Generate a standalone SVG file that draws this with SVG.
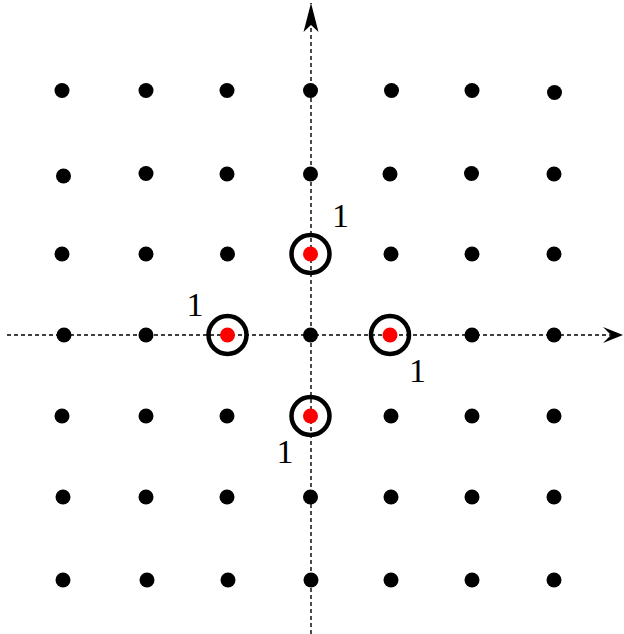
<svg xmlns="http://www.w3.org/2000/svg" width="624" height="634" viewBox="0 0 624 634">
<style>
.dot{fill:#000}
.red{fill:#ff0000}
.ring{fill:none;stroke:#000;stroke-width:4.5}
.axis{stroke:#000;stroke-width:1.4;stroke-dasharray:4,3;fill:none}
.lbl{font-family:"Liberation Serif","Times New Roman",serif;font-size:34px;fill:#000;text-anchor:middle}
</style>
<defs>
<marker id="ahv" markerUnits="userSpaceOnUse" markerWidth="32" markerHeight="20" viewBox="0 0 32 20" refX="30" refY="10" orient="auto">
<path d="M1,2.5 L30,10 L1,17.5 L8,10 Z" fill="#000"/>
</marker>
<marker id="ahh" markerUnits="userSpaceOnUse" markerWidth="24" markerHeight="20" viewBox="0 0 24 20" refX="22" refY="10" orient="auto">
<path d="M2,2 L22,10 L2,18 L10,10 Z" fill="#000"/>
</marker>
</defs>
<g id="connectors">
<line class="axis" x1="311" y1="634" x2="311" y2="3" marker-end="url(#ahv)"/>
<line class="axis" x1="7" y1="335" x2="623" y2="335" marker-end="url(#ahh)"/>
</g>
<g id="lattice">
<circle class="dot" cx="62" cy="90.5" r="7.5"/>
<circle class="dot" cx="146" cy="90.5" r="7.5"/>
<circle class="dot" cx="227" cy="90.5" r="7.5"/>
<circle class="dot" cx="310.5" cy="90.5" r="7.5"/>
<circle class="dot" cx="391.5" cy="90.5" r="7.5"/>
<circle class="dot" cx="472" cy="90.5" r="7.5"/>
<circle class="dot" cx="554.5" cy="92.5" r="7.5"/>
<circle class="dot" cx="63.5" cy="176" r="7.5"/>
<circle class="dot" cx="146" cy="173.5" r="7.5"/>
<circle class="dot" cx="227" cy="174" r="7.5"/>
<circle class="dot" cx="310.5" cy="174" r="7.5"/>
<circle class="dot" cx="390" cy="174" r="7.5"/>
<circle class="dot" cx="471.5" cy="173.5" r="7.5"/>
<circle class="dot" cx="554" cy="174" r="7.5"/>
<circle class="dot" cx="62" cy="254" r="7.5"/>
<circle class="dot" cx="146" cy="254" r="7.5"/>
<circle class="dot" cx="227.5" cy="254" r="7.5"/>
<circle class="dot" cx="391" cy="254" r="7.5"/>
<circle class="dot" cx="472" cy="254" r="7.5"/>
<circle class="dot" cx="554" cy="254" r="7.5"/>
<circle class="dot" cx="64" cy="335" r="7.5"/>
<circle class="dot" cx="146" cy="335" r="7.5"/>
<circle class="dot" cx="310.5" cy="335" r="7.5"/>
<circle class="dot" cx="472" cy="335" r="7.5"/>
<circle class="dot" cx="554" cy="335" r="7.5"/>
<circle class="dot" cx="62" cy="416" r="7.5"/>
<circle class="dot" cx="146" cy="416" r="7.5"/>
<circle class="dot" cx="227" cy="416" r="7.5"/>
<circle class="dot" cx="391" cy="416" r="7.5"/>
<circle class="dot" cx="472" cy="416" r="7.5"/>
<circle class="dot" cx="554" cy="416" r="7.5"/>
<circle class="dot" cx="63" cy="497" r="7.5"/>
<circle class="dot" cx="146" cy="497" r="7.5"/>
<circle class="dot" cx="227" cy="497" r="7.5"/>
<circle class="dot" cx="310.5" cy="497" r="7.5"/>
<circle class="dot" cx="391" cy="497" r="7.5"/>
<circle class="dot" cx="472" cy="497" r="7.5"/>
<circle class="dot" cx="554" cy="497" r="7.5"/>
<circle class="dot" cx="63" cy="580" r="7.5"/>
<circle class="dot" cx="147" cy="580" r="7.5"/>
<circle class="dot" cx="228" cy="580" r="7.5"/>
<circle class="dot" cx="311" cy="580" r="7.5"/>
<circle class="dot" cx="391" cy="580" r="7.5"/>
<circle class="dot" cx="472" cy="580" r="7.5"/>
<circle class="dot" cx="554" cy="580" r="7.5"/>
</g>
<g id="node-top">
<circle class="ring" cx="310.5" cy="254" r="19"/>
<circle class="red" cx="310.5" cy="254" r="7.5"/>
<text class="lbl" x="340.5" y="227">1</text>
</g>
<g id="node-left">
<circle class="ring" cx="227.5" cy="335" r="19"/>
<circle class="red" cx="227.5" cy="335" r="7.5"/>
<text class="lbl" x="195" y="316">1</text>
</g>
<g id="node-right">
<circle class="ring" cx="390" cy="335" r="19"/>
<circle class="red" cx="390" cy="335" r="7.5"/>
<text class="lbl" x="417.5" y="382">1</text>
</g>
<g id="node-bottom">
<circle class="ring" cx="310.5" cy="416" r="19"/>
<circle class="red" cx="310.5" cy="416" r="7.5"/>
<text class="lbl" x="285" y="463">1</text>
</g>
</svg>
